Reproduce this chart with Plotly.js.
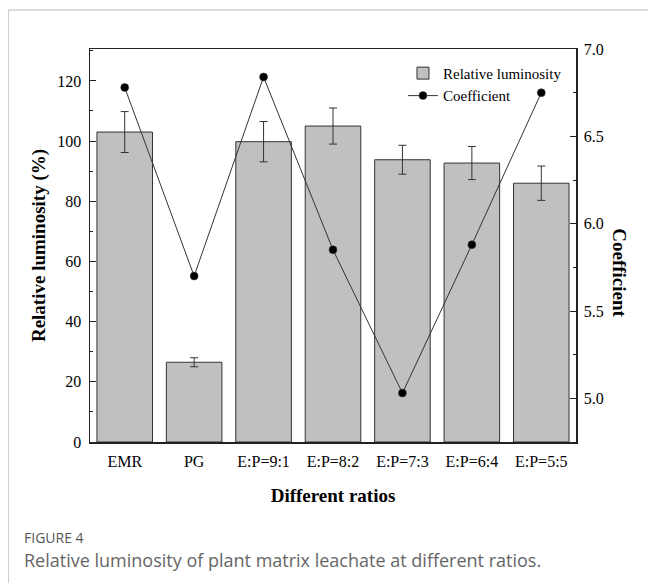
<!DOCTYPE html>
<html>
<head>
<meta charset="utf-8">
<script src="https://cdn.plot.ly/plotly-3.0.1.min.js"></script>
<style>
  html, body { margin: 0; padding: 0; background: #fff; }
  #wrap { position: relative; width: 648px; height: 583px; }
  #chart { position: absolute; left: 0; top: 0; width: 648px; height: 583px; }
  #frame { position: absolute; left: 8px; top: 9px; right: 0; bottom: 0;
           border-top: 2px solid #dcdcdc; border-left: 1px solid #d0d0d0; pointer-events: none; }
</style>
</head>
<body>
<div id="wrap">
  <div id="chart"></div>
  <div id="frame"></div>
</div>
<script>
// ---- data ----
const categories = ["EMR", "PG", "E:P=9:1", "E:P=8:2", "E:P=7:3", "E:P=6:4", "E:P=5:5"];
const luminosity = [103, 26.5, 99.8, 105, 93.8, 92.7, 86];
const luminosityErr = [6.8, 1.5, 6.7, 6.0, 4.8, 5.5, 5.7];
const coefficient = [6.78, 5.70, 6.84, 5.85, 5.03, 5.88, 6.75];
const leftTicks = [0, 20, 40, 60, 80, 100, 120];
const rightTicks = [5.0, 5.5, 6.0, 6.5, 7.0];
const rightTickText = ["5.0", "5.5", "6.0", "6.5", "7.0"];

const serif = "Liberation Serif, Times New Roman, serif";
const axisColor = "#222";

const traces = [
  {
    type: "bar",
    name: "Relative luminosity",
    x: categories,
    y: luminosity,
    marker: { color: "#c0c0c0", line: { color: "#333", width: 1 } },
    error_y: { type: "data", array: luminosityErr, visible: true,
               color: "#333", thickness: 1, width: 4 },
    yaxis: "y"
  },
  {
    type: "scatter",
    mode: "lines+markers",
    name: "Coefficient",
    x: categories,
    y: coefficient,
    yaxis: "y2",
    line: { color: "#333", width: 1 },
    marker: { color: "#000", size: 8, line: { color: "#444", width: 0.5 } }
  }
];

const layout = {
  width: 648,
  height: 583,
  margin: { l: 90, r: 72, t: 49, b: 141 },
  paper_bgcolor: "#fff",
  plot_bgcolor: "#fff",
  bargap: 0.2,
  font: { family: serif, size: 16, color: "#000" },
  showlegend: true,
  legend: {
    x: 0.644, y: 0.98, xanchor: "left", yanchor: "top",
    bgcolor: "rgba(0,0,0,0)", borderwidth: 0,
    font: { family: serif, size: 15, color: "#000" },
    itemwidth: 30, traceorder: "normal"
  },
  xaxis: {
    type: "category",
    range: [-0.5, 6.5],
    showline: true, linecolor: axisColor, linewidth: 1.5, mirror: true,
    ticks: "", showgrid: false, zeroline: false,
    ticklabelstandoff: 4,
    tickfont: { family: serif, size: 16, color: "#000" },
    title: { text: "<b>Different ratios</b>", font: { family: serif, size: 19, color: "#000" }, standoff: 20 }
  },
  yaxis: {
    range: [0, 130.6],
    tickvals: leftTicks,
    showline: true, linecolor: axisColor, linewidth: 1.5,
    ticks: "inside", ticklen: 6, tickcolor: axisColor, tickwidth: 1,
    minor: { dtick: 10, ticks: "inside", ticklen: 3, tickcolor: axisColor, showgrid: false },
    showgrid: false, zeroline: false,
    ticklabelstandoff: 4,
    tickfont: { family: serif, size: 16, color: "#000" },
    title: { text: "<b>Relative luminosity (%)</b>", font: { family: serif, size: 19, color: "#000" }, standoff: 6 }
  },
  yaxis2: {
    overlaying: "y",
    side: "right",
    range: [4.75, 7.0],
    tickvals: rightTicks,
    ticktext: rightTickText,
    showline: true, linecolor: axisColor, linewidth: 1.5,
    ticks: "inside", ticklen: 6, tickcolor: axisColor, tickwidth: 1,
    minor: { dtick: 0.25, ticks: "inside", ticklen: 3, tickcolor: axisColor, showgrid: false },
    showgrid: false, zeroline: false,
    ticklabelstandoff: 3,
    tickfont: { family: serif, size: 16, color: "#000" }
  },
  annotations: [
    {
      text: "<b>Coefficient</b>", xref: "paper", yref: "paper",
      x: 1.09, y: 0.43, xanchor: "center", yanchor: "middle",
      textangle: 90, showarrow: false,
      font: { family: serif, size: 19, color: "#000" }
    },
    {
      text: "FIGURE 4", xref: "paper", yref: "paper",
      x: -0.14, y: -0.244, xanchor: "left", yanchor: "middle",
      showarrow: false,
      font: { family: "Open Sans, sans-serif", size: 14, color: "#555" }
    },
    {
      text: "Relative luminosity of plant matrix leachate at different ratios.", xref: "paper", yref: "paper",
      x: -0.14, y: -0.30, xanchor: "left", yanchor: "middle",
      showarrow: false,
      font: { family: "Open Sans, sans-serif", size: 18, color: "#666" }
    }
  ]
};

Plotly.newPlot("chart", traces, layout, { displayModeBar: false, staticPlot: true });
</script>
</body>
</html>
